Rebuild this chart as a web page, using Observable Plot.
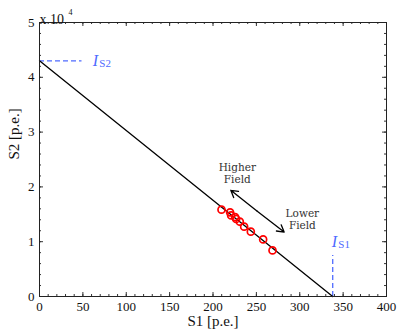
<!DOCTYPE html>
<html><head><meta charset="utf-8">
<script src="https://cdn.jsdelivr.net/npm/d3@7"></script>
<script src="https://cdn.jsdelivr.net/npm/@observablehq/plot@0.6"></script>
<style>body{margin:0;background:#fff}</style>
</head><body><div id="chart"></div>
<script>
const s1Values = [209.8, 219.7, 220.9, 225.5, 226.7, 230.9, 235.9, 243.6, 257.8, 268.6];
const s2Values = [15850, 15360, 14800, 14500, 14140, 13650, 12740, 11830, 10420, 8410];
const fitLine = [{s1: 0, s2: 43000}, {s1: 338, s2: 0}];
const IS2 = 43000, IS1 = 338;
const xMajor = [0, 50, 100, 150, 200, 250, 300, 350, 400];
const xMinor = d3.range(0, 401, 10);
const yMajor = [0, 10000, 20000, 30000, 40000, 50000];
const yMinor = d3.range(0, 50001, 2000);
const points = s1Values.map((s1, i) => ({s1, s2: s2Values[i]}));

const W = 399, H = 332, mt = 22, mb = 36, ml = 39, mr = 13;
const ih = H - mt - mb, iw = W - ml - mr;
const tickColor = "#333";
const blue = "#4f6bff";
const serif = "'Liberation Serif', 'Times New Roman', serif";
const mid = {s1: 251, s2: 15570};
const arrowEnds = [{s1: 220.5, s2: 19380}, {s1: 282, s2: 11760}];

const chart = Plot.plot({
  width: W, height: H,
  marginTop: mt, marginBottom: mb, marginLeft: ml, marginRight: mr,
  style: {fontFamily: serif, fontSize: "13px", background: "white", color: "#111"},
  x: {domain: [0, 400]},
  y: {domain: [0, 50000]},
  marks: [
    Plot.axisX({ticks: xMajor, tickSize: 0, tickPadding: 5, label: null, fontSize: 13, fontFamily: serif}),
    Plot.axisY({ticks: yMajor, tickSize: 0, tickPadding: 5, tickFormat: d => d / 1e4, label: null, fontSize: 13, fontFamily: serif}),
    // inward ticks
    Plot.tickX(xMajor, {x: d => d, insetTop: ih - 4, stroke: tickColor}),
    Plot.tickX(xMinor, {x: d => d, insetTop: ih - 2, stroke: tickColor}),
    Plot.tickX(xMajor, {x: d => d, insetBottom: ih - 4, stroke: tickColor}),
    Plot.tickX(xMinor, {x: d => d, insetBottom: ih - 2, stroke: tickColor}),
    Plot.tickY(yMajor, {y: d => d, insetRight: iw - 4, stroke: tickColor}),
    Plot.tickY(yMinor, {y: d => d, insetRight: iw - 2, stroke: tickColor}),
    Plot.tickY(yMajor, {y: d => d, insetLeft: iw - 4, stroke: tickColor}),
    Plot.tickY(yMinor, {y: d => d, insetLeft: iw - 2, stroke: tickColor}),
    // reference dashed lines
    Plot.ruleY([IS2], {y: d => d, x1: 0, x2: 49, stroke: blue, strokeWidth: 1.3, strokeDasharray: "5,3"}),
    Plot.ruleX([IS1], {x: d => d, y1: 0, y2: 7500, stroke: blue, strokeWidth: 1.3, strokeDasharray: "5,3"}),
    Plot.text(["I"], {x: 61.5, y: IS2, text: d => d, fill: blue, fontSize: 16, fontStyle: "italic", fontFamily: serif, textAnchor: "start"}),
    Plot.text(["S2"], {x: 69, y: IS2, text: d => d, fill: blue, fontSize: 11, fontFamily: serif, dy: 3, textAnchor: "start"}),
    Plot.text(["I"], {x: IS1 - 1, y: 10000, text: d => d, fill: blue, fontSize: 16, fontStyle: "italic", fontFamily: serif, textAnchor: "start"}),
    Plot.text(["S1"], {x: IS1 + 6.5, y: 10000, text: d => d, fill: blue, fontSize: 11, fontFamily: serif, dy: 3, textAnchor: "start"}),
    // fit line
    Plot.line(fitLine, {x: "s1", y: "s2", stroke: "black", strokeWidth: 1.3}),
    // data points
    Plot.dot(points, {x: "s1", y: "s2", r: 3.5, stroke: "#ff0000", strokeWidth: 1.7, fill: "none"}),
    // double arrow
    Plot.arrow(arrowEnds, {x1: mid.s1, y1: mid.s2, x2: "s1", y2: "s2", stroke: "black", strokeWidth: 1.3, headLength: 9, bend: 0}),
    Plot.text(["Higher\nField"], {x: 228, y: 22430, text: d => d, fontFamily: "DejaVu Serif", fontSize: 10.5, fill: "#333", lineHeight: 1.15}),
    Plot.text(["Lower\nField"], {x: 303, y: 14050, text: d => d, fontFamily: "DejaVu Serif", fontSize: 10.5, fill: "#333", lineHeight: 1.15}),
    Plot.frame({stroke: "#222", strokeWidth: 1}),
    // axis titles
    Plot.text(["S1 [p.e.]"], {frameAnchor: "bottom", dy: 29, text: d => d, fontSize: 15, fontFamily: serif, fill: "#111"}),
    Plot.text(["S2 [p.e.]"], {frameAnchor: "left", dx: -25, rotate: -90, text: d => d, fontSize: 15, fontFamily: serif, fill: "#111"}),
    Plot.text(["x\u00a010"], {frameAnchor: "top-left", dx: 0, dy: -8, textAnchor: "start", text: d => d, fontSize: 14, fontFamily: serif, fill: "#111"}),
    Plot.text(["4"], {frameAnchor: "top-left", dx: 29, dy: -13, textAnchor: "start", text: d => d, fontSize: 8, fontFamily: serif, fill: "#111"})
  ]
});
document.getElementById("chart").appendChild(chart);
</script>
</body></html>
